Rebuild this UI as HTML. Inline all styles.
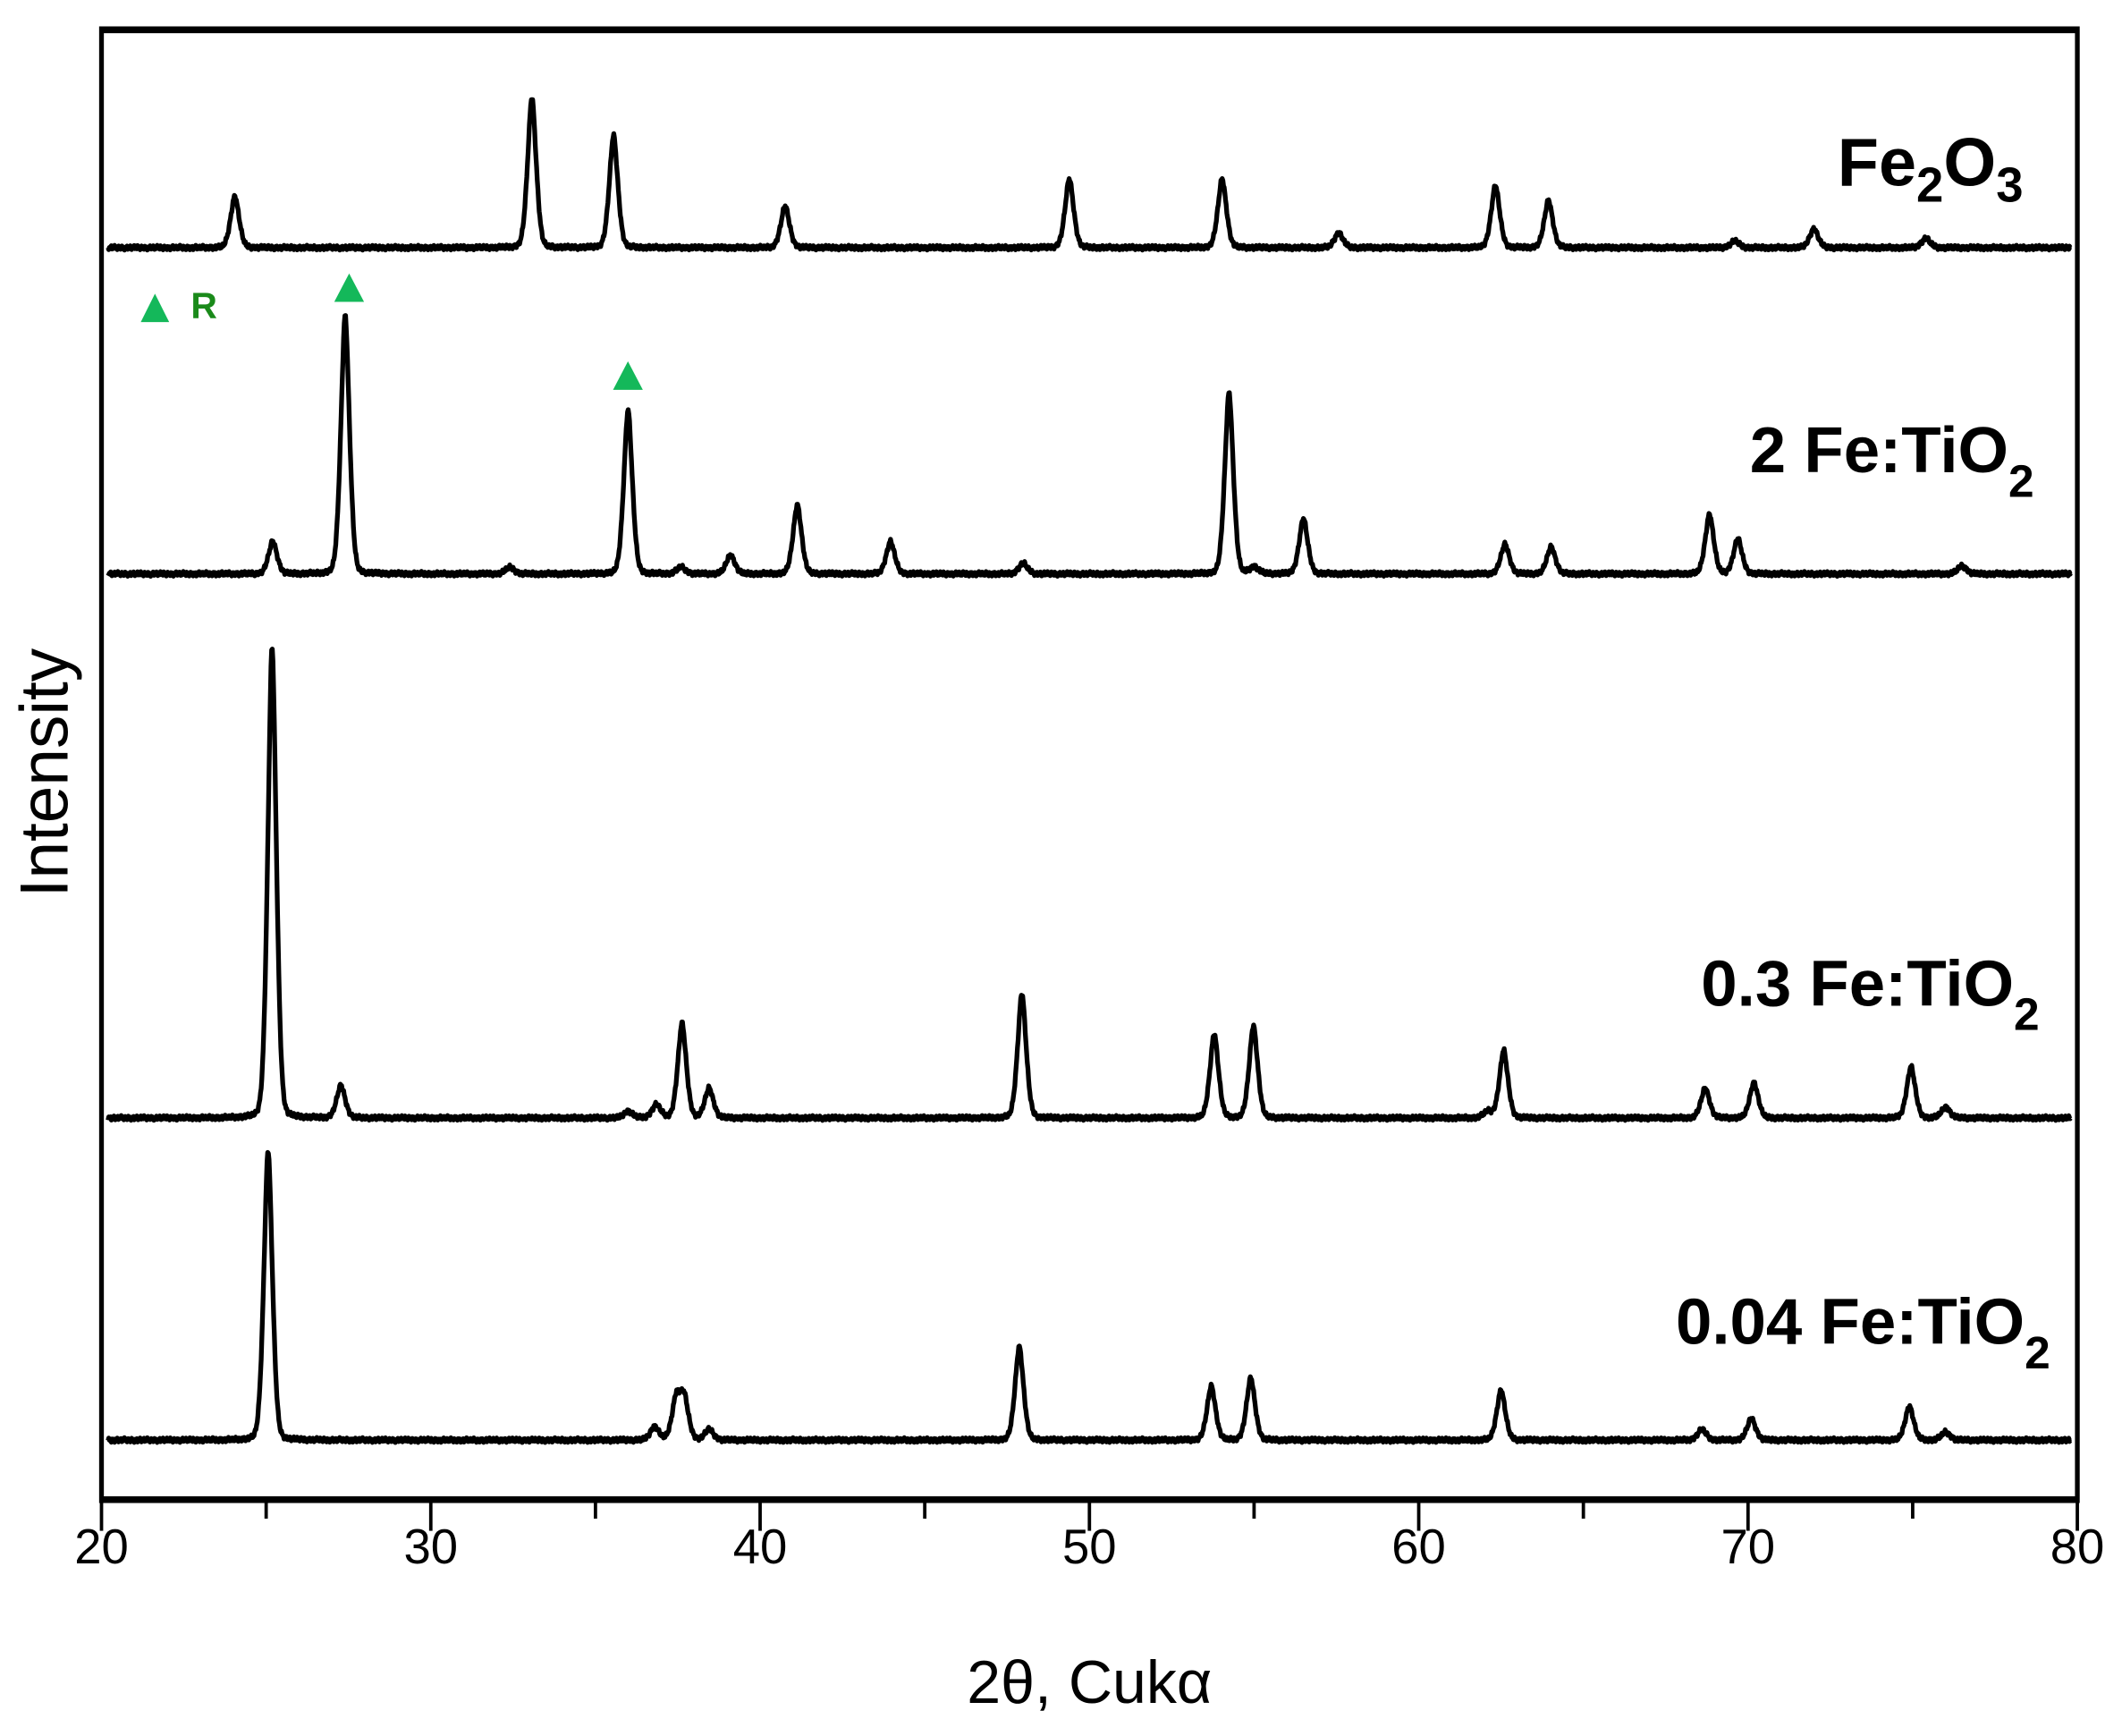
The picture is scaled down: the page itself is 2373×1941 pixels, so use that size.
<!DOCTYPE html>
<html><head><meta charset="utf-8"><style>html,body{margin:0;padding:0;background:#fff}svg{display:block}</style></head>
<body>
<svg id="chart" width="2373" height="1941" viewBox="0 0 1568 1282.6" preserveAspectRatio="none" xmlns="http://www.w3.org/2000/svg" font-family="'Liberation Sans', Arial, sans-serif">
<rect x="0" y="0" width="1568" height="1282.6" fill="#fff"/>
<g id="series"></g>
<g id="axes"></g>
<text x="1495" y="137" text-anchor="end" font-weight="bold" font-size="50">Fe<tspan font-size="36" dy="12">2</tspan><tspan dy="-12">O</tspan><tspan font-size="36" dy="12">3</tspan></text>
<text x="1503" y="349" text-anchor="end" font-weight="bold" font-size="48">2 Fe:TiO<tspan font-size="34" dy="18">2</tspan></text>
<text x="1507" y="743" text-anchor="end" font-weight="bold" font-size="48">0.3 Fe:TiO<tspan font-size="34" dy="18">2</tspan></text>
<text x="1515" y="993" text-anchor="end" font-weight="bold" font-size="48">0.04 Fe:TiO<tspan font-size="34" dy="18">2</tspan></text>
<polygon points="104,238 125,238 114.5,217" fill="#14b85a"/>
<text x="141" y="235" font-weight="bold" font-size="27" fill="#1a8a1a">R</text>
<polygon points="247,223 269,223 258,202" fill="#14b85a"/>
<polygon points="453,288 475,288 464,267" fill="#14b85a"/>
<text x="805" y="1258" text-anchor="middle" font-size="45">2θ, Cukα</text>
<text transform="translate(50,571) rotate(-90)" text-anchor="middle" font-size="50" textLength="184" lengthAdjust="spacingAndGlyphs">Intensity</text>
<script>
const xTicks = [20, 30, 40, 50, 60, 70, 80];
const minorTicks = [25, 35, 45, 55, 65, 75];
const seriesNames = ["Fe2O3", "2 Fe:TiO2", "0.3 Fe:TiO2", "0.04 Fe:TiO2"];
const baselines = [183, 424, 826, 1064];
const fe2o3Pos = [24.05, 33.07, 35.55, 40.76, 49.39, 54.03, 57.57, 62.33, 63.94, 69.6, 72.0, 75.4];
const fe2o3Int = [38, 111, 83, 31, 51, 51, 11, 46, 35, 5, 14, 7];
const fe2Pos = [25.2, 27.4, 32.4, 35.99, 37.6, 39.1, 41.13, 43.96, 47.99, 54.24, 55.0, 56.5, 62.62, 64.02, 68.83, 69.69, 76.5];
const fe2Int = [24, 191, 5, 121, 5, 14, 51, 24, 8, 134, 5, 41, 22, 20, 44, 26, 6];
const fe03Pos = [25.18, 27.27, 36.0, 36.85, 37.63, 38.45, 47.95, 53.79, 54.98, 62.1, 62.58, 68.7, 70.18, 74.95, 76.0];
const fe03Int = [348, 24, 5, 10, 70, 22, 92, 62, 68, 5, 50, 22, 26, 38, 8];
const fe004Pos = [25.06, 36.8, 37.45, 37.7, 38.45, 47.87, 53.7, 54.9, 62.5, 68.6, 70.1, 74.9, 76.0];
const fe004Int = [214, 10, 30, 30, 8, 69, 40, 46, 37, 8, 16, 25, 6];

const svgNS = "http://www.w3.org/2000/svg";
const X0 = 75, X1 = 1535, Y0 = 22, Y1 = 1108;
function xScale(v){ return X0 + (v - 20) / 60 * (X1 - X0); }
function yScale(base, inten){ return base - inten; }
function profile(x, pos, ints){
  let s = 0;
  for (let i = 0; i < pos.length; i++){
    const d = (x - pos[i]) / 0.14;
    s += ints[i] * (0.75 * Math.exp(-0.5 * d * d) + 0.25 / (1 + d * d * 2));
  }
  return s;
}
const allPos = [fe2o3Pos, fe2Pos, fe03Pos, fe004Pos];
const allInt = [fe2o3Int, fe2Int, fe03Int, fe004Int];
const sg = document.getElementById("series");
for (let k = 0; k < 4; k++){
  let d = "";
  for (let i = 0; i <= 3000; i++){
    const x = 20.2 + i * (79.8 - 20.2) / 3000;
    const wig = 1.8 * Math.sin(i * 1.7 + k) * Math.cos(i * 0.63);
    const y = yScale(baselines[k], profile(x, allPos[k], allInt[k])) + wig;
    d += (i ? "L" : "M") + xScale(x).toFixed(2) + "," + y.toFixed(2);
  }
  const p = document.createElementNS(svgNS, "path");
  p.setAttribute("d", d);
  p.setAttribute("fill", "none");
  p.setAttribute("stroke", "#000");
  p.setAttribute("stroke-width", "3.5");
  p.setAttribute("stroke-linejoin", "round");
  
  
  sg.appendChild(p);
}
const ag = document.getElementById("axes");
function line(x1, y1, x2, y2, w){
  const l = document.createElementNS(svgNS, "line");
  l.setAttribute("x1", x1); l.setAttribute("y1", y1);
  l.setAttribute("x2", x2); l.setAttribute("y2", y2);
  l.setAttribute("stroke", "#000"); l.setAttribute("stroke-width", w);
  ag.appendChild(l);
  return l;
}
let e;
e = line(X0, Y0, X1, Y0, 5);


e = line(X0, Y1, X1, Y1, 5);


e = line(X0, Y0 - 2.5, X0, Y1 + 2.5, 3.5);


e = line(X1, Y0 - 2.5, X1, Y1 + 2.5, 3.5);


xTicks.forEach(v => {
  const t = line(xScale(v), Y1, xScale(v), Y1 + 23, 2.5);
  
  
  const tx = document.createElementNS(svgNS, "text");
  tx.setAttribute("x", xScale(v));
  tx.setAttribute("y", 1155);
  tx.setAttribute("text-anchor", "middle");
  tx.setAttribute("font-size", "36");
  tx.textContent = v;
  
  
  ag.appendChild(tx);
});
minorTicks.forEach(v => {
  const t = line(xScale(v), Y1, xScale(v), Y1 + 14, 2.5);
  
  
});
</script>
</svg>
</body></html>
